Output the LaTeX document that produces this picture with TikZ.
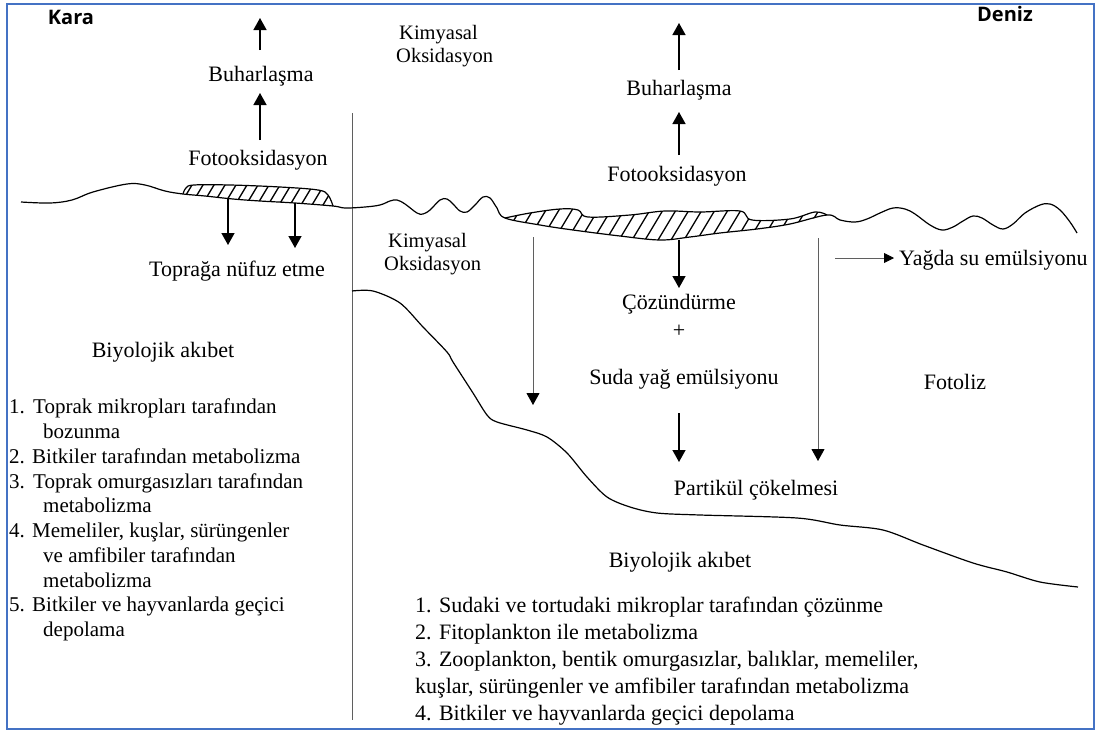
\documentclass[tikz,border=0pt]{standalone}
\usepackage{fontspec}
\setmainfont{Liberation Serif}
\newfontfamily\headfont{Open Sans}
\usetikzlibrary{arrows.meta}
\definecolor{frameblue}{RGB}{68,114,196}
\definecolor{divgray}{RGB}{95,95,95}
\begin{document}
\begin{tikzpicture}[x=1pt,y=-1pt,
  txt/.style={inner sep=0pt, anchor=base, font=\fontsize{22}{26}\selectfont},
  kimya/.style={inner sep=0pt, anchor=base west, font=\fontsize{20.5}{23}\selectfont},
  lst/.style={inner sep=0pt, anchor=base west, font=\fontsize{21}{25}\selectfont},
  rlst/.style={inner sep=0pt, anchor=base west, font=\fontsize{22}{26}\selectfont},
  head/.style={inner sep=0pt, anchor=base, font=\headfont\bfseries\fontsize{20}{24}\selectfont},
  arr/.style={line width=1.4pt, -{Triangle[width=13pt,length=12pt]}},
  thinarr/.style={line width=0.9pt, draw=divgray, -{Triangle[width=13pt,length=12pt,color=black]}},
  smallarr/.style={line width=0.9pt, draw=divgray, -{Triangle[width=10pt,length=10pt,color=black]}},
  ground/.style={line width=1.2pt, line join=round},
  hatch/.style={line width=1.3pt},
  divider/.style={line width=0.9pt, draw=divgray}
]
\fill[white] (0,0) rectangle (1101,734);
\useasboundingbox (0,0) rectangle (1101,734);

% ---------- headings ----------
\node[head] (kara) at (71,24) {Kara};
\node[head] (deniz) at (1005,21) {Deniz};

% ---------- divider ----------
\coordinate (dtop) at (352,113);
\coordinate (dbot) at (352,720);
\draw[divider] (dtop) -- (dbot);

% ---------- blobs (hatched oil) ----------
\begin{scope}
  \clip plot[smooth, tension=0.6] coordinates {(183,194) (186,188) (194,185) (230,185) (280,187) (318,190) (328,195) (333,206)}
     -- plot[smooth, tension=0.6] coordinates {(333,206) (295,203) (260,201) (233,199) (205,196) (183,194)} -- cycle;
  \foreach \x in {160,171,...,350} \draw[hatch] (\x,220) -- (\x+24,180);
\end{scope}
\draw[ground] plot[smooth, tension=0.6] coordinates {(183,194) (186,188) (194,185) (230,185) (280,187) (318,190) (328,195) (333,206)};

\begin{scope}
  \clip plot[smooth, tension=0.6] coordinates {(505,218) (530,213) (560,209) (578,210) (588,217) (630,215) (665,211) (700,212) (740,211) (752,220) (790,219) (815,212) (827,215)}
     -- plot[smooth, tension=0.6] coordinates {(827,215) (790,224) (757,229) (720,233) (690,237) (660,240) (620,236) (573,230) (540,225) (505,218)} -- cycle;
  \foreach \x in {470,483,...,850} \draw[hatch] (\x,250) -- (\x+27,205);
\end{scope}
\draw[ground] plot[smooth, tension=0.6] coordinates {(505,218) (530,213) (560,209) (578,210) (588,217) (630,215) (665,211) (700,212) (740,211) (752,220) (790,219) (815,212) (827,215)};

% ---------- surface line ----------
\draw[ground] plot[smooth, tension=0.6] coordinates {(21,202) (50,203) (72,200) (93,192) (127,184) (145,185) (165,191) (183,194)
  (205,196) (233,199) (260,201) (295,203) (333,206) (345,208) (365,207) (380,205) (390,201) (397,200) (405,204) (417,213) (423,214) (430,210)
  (440,200) (447,199) (453,204) (460,211) (467,212) (475,205) (483,197) (490,198) (497,208) (505,218)
  (540,225) (573,230) (620,236) (660,240) (690,237) (720,233) (757,229) (790,224) (827,215)
  (840,220) (855,222) (867,219) (880,213) (893,208) (905,209) (915,214) (930,225) (942,230) (953,227) (963,221) (973,216)
  (982,218) (993,225) (1003,229) (1013,224) (1025,213) (1040,205) (1050,204) (1060,210) (1070,222) (1077,233)};

% ---------- sea floor ----------
\draw[ground] plot[smooth, tension=0.5] coordinates {(352,291) (373,291) (400,303) (423,327) (447,352) (453,362) (473,393) (487,415) (497,422)
  (527,430) (547,437) (567,453) (587,477) (607,497) (630,507) (657,513) (700,515) (797,518) (840,525) (883,530) (923,545) (973,563)
  (1007,572) (1040,582) (1078,587)};

% ---------- land texts ----------
\node[txt] (lbuh) at (261,81) {Buharlaşma};
\node[txt] (lfoto) at (258,165) {Fotooksidasyon};
\node[txt] (ltop) at (237,276) {Toprağa nüfuz etme};
\node[txt] (lbio) at (163,357) {Biyolojik akıbet};

\coordinate (la1s) at (260,50);  \coordinate (la1e) at (260,18);
\coordinate (la2s) at (260,140); \coordinate (la2e) at (260,93);
\draw[arr] (la1s) -- (la1e);
\draw[arr] (la2s) -- (la2e);
\coordinate (ld1s) at (228,199); \coordinate (ld1e) at (228,245);
\coordinate (ld2s) at (295,203); \coordinate (ld2e) at (295,248);
\draw[arr] (ld1s) -- (ld1e);
\draw[arr] (ld2s) -- (ld2e);

\node[kimya] (kim1a) at (399,39) {Kimyasal};
\node[kimya] (kim1b) at (396,62) {Oksidasyon};
\node[kimya] (kim2a) at (388,247) {Kimyasal};
\node[kimya] (kim2b) at (384,270) {Oksidasyon};

% ---------- land list ----------
\node[lst] (l1) at (9,413) {\makebox[24pt][l]{1.}Toprak mikropları tarafından};
\node[lst] (l1b) at (43,438) {bozunma};
\node[lst] (l2) at (9,463) {\makebox[23pt][l]{2.}Bitkiler tarafından metabolizma};
\node[lst] (l3) at (9,488) {\makebox[24pt][l]{3.}Toprak omurgasızları tarafından};
\node[lst] (l3b) at (43,512) {metabolizma};
\node[lst] (l4) at (9,537) {\makebox[23pt][l]{4.}Memeliler, kuşlar, sürüngenler};
\node[lst] (l4b) at (43,562) {ve amfibiler tarafından};
\node[lst] (l4c) at (43,587) {metabolizma};
\node[lst] (l5) at (9,611) {\makebox[23pt][l]{5.}Bitkiler ve hayvanlarda geçici};
\node[lst] (l5b) at (43,636) {depolama};

% ---------- sea texts ----------
\node[txt] (rbuh) at (679,95) {Buharlaşma};
\node[txt] (rfoto) at (677,181) {Fotooksidasyon};
\node[txt] (coz) at (679,309) {Çözündürme};
\node[txt] (plus) at (679,337) {+};
\node[txt] (suda) at (684,384) {Suda yağ emülsiyonu};
\node[txt] (part) at (756,495) {Partikül çökelmesi};
\node[txt] (fotoliz) at (955,389) {Fotoliz};
\node[txt, anchor=base west] (yagda) at (899,265) {Yağda su emülsiyonu};
\node[txt] (rbio) at (680,567) {Biyolojik akıbet};

\coordinate (ra1s) at (679,70);  \coordinate (ra1e) at (679,23);
\coordinate (ra2s) at (679,155); \coordinate (ra2e) at (679,112);
\draw[arr] (ra1s) -- (ra1e);
\draw[arr] (ra2s) -- (ra2e);
\coordinate (rd1s) at (679,240); \coordinate (rd1e) at (679,288);
\coordinate (rd2s) at (679,413); \coordinate (rd2e) at (679,462);
\draw[arr] (rd1s) -- (rd1e);
\draw[arr] (rd2s) -- (rd2e);
\coordinate (lg1s) at (533,237); \coordinate (lg1e) at (533,405);
\coordinate (lg2s) at (818,238); \coordinate (lg2e) at (818,461);
\draw[thinarr] (lg1s) -- (lg1e);
\draw[thinarr] (lg2s) -- (lg2e);
\coordinate (ys) at (835,258);
\coordinate (ye) at (894,258);
\draw[smallarr] (ys) -- (ye);

% ---------- sea list ----------
\node[rlst] (r1) at (415,612) {1. Sudaki ve tortudaki mikroplar tarafından çözünme};
\node[rlst] (r2) at (415,639) {2. Fitoplankton ile metabolizma};
\node[rlst] (r3) at (415,666) {3. Zooplankton, bentik omurgasızlar, balıklar, memeliler,};
\node[rlst] (r4) at (415,693) {kuşlar, sürüngenler ve amfibiler tarafından metabolizma};
\node[rlst] (r5) at (415,720) {4. Bitkiler ve hayvanlarda geçici depolama};

% ---------- frame ----------
\draw[frameblue, line width=2.5pt] (7,4) rectangle (1094,729);
\end{tikzpicture}
\end{document}
